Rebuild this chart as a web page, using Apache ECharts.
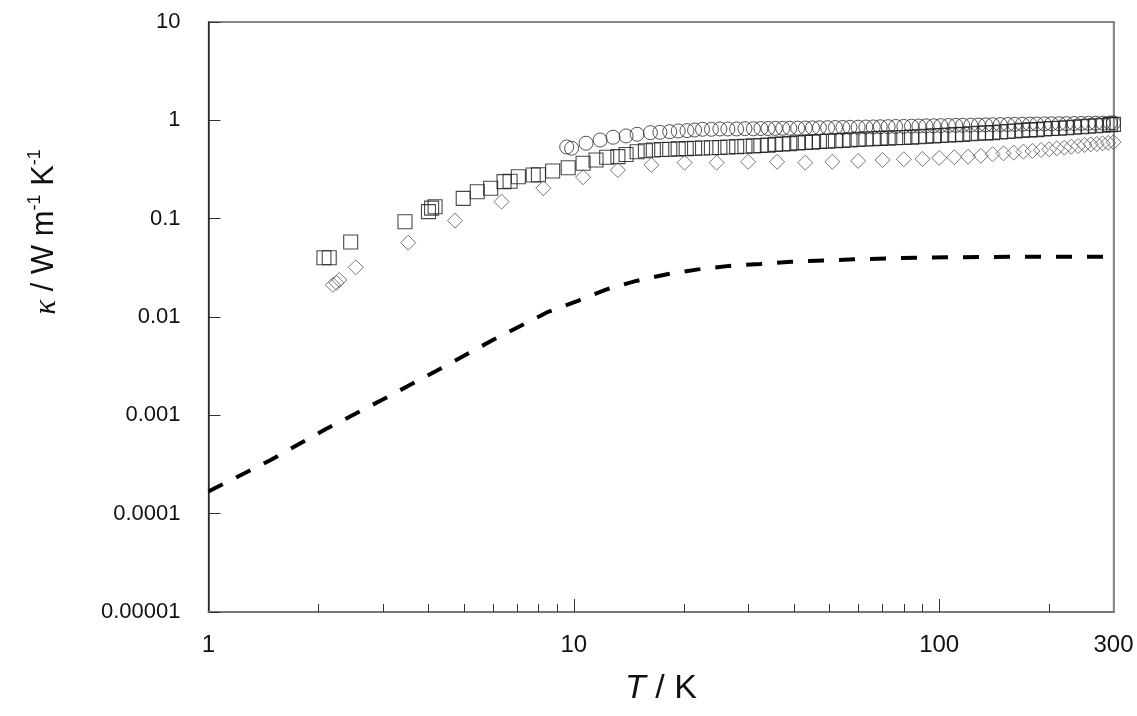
<!DOCTYPE html>
<html>
<head>
<meta charset="utf-8">
<script src="https://cdn.jsdelivr.net/npm/echarts@6/dist/echarts.min.js"></script>
<style>
  html, body { margin: 0; padding: 0; background: #fff; }
  #chart { width: 1137px; height: 716px; }
</style>
</head>
<body>
<div id="chart"></div>
<script>
// model curve (dashed)
const lineT = [1, 1.04, 1.48, 2.09, 2.98, 4.21, 6.0, 8.51, 10.3, 12.3, 14.9, 18.0, 21.9, 26.6, 32.4, 39.4, 58.4, 86.3, 155, 300];
const lineK = [1.68e-4, 1.81e-4, 3.52e-4, 7.21e-4, 1.43e-3, 2.84e-3, 5.83e-3, 0.0113, 0.0147, 0.0191, 0.0234, 0.0272, 0.0305, 0.0331, 0.0346, 0.0365, 0.0386, 0.0401, 0.041, 0.041];

// squares
const squareT = [2.07, 2.14, 2.45, 3.45, 4.0, 4.08, 4.17, 4.98, 5.44, 5.92,
  6.44, 6.69, 7.05, 7.74, 8.0, 8.75, 9.65, 10.6, 11.5, 12.3,
  13.2, 13.9, 14.9, 15.7, 16.5, 17.4, 18.3, 19.3, 20.3, 21.4,
  22.5, 23.8, 25.1, 26.4, 27.9, 29.4, 31, 32.5, 34, 35.6,
  37.3, 39, 41, 43, 45, 47, 49.5, 52, 54.5, 57,
  60, 63, 66, 69, 72.5, 76, 80, 84, 88, 92,
  96.5, 101, 106, 111, 116, 122, 128, 134, 140, 147,
  154, 161, 169, 177, 185, 194, 203, 213, 223, 234,
  245, 256, 268, 281, 294, 300];
const squareK = [0.040, 0.040, 0.058, 0.093, 0.118, 0.128, 0.132, 0.161, 0.188, 0.204,
  0.238, 0.24, 0.267, 0.278, 0.28, 0.305, 0.33, 0.366, 0.395, 0.421,
  0.427, 0.45, 0.48, 0.49, 0.50, 0.505, 0.508, 0.512, 0.515, 0.52,
  0.524, 0.527, 0.53, 0.535, 0.54, 0.545, 0.55, 0.555, 0.56, 0.57,
  0.575, 0.58, 0.59, 0.595, 0.60, 0.61, 0.615, 0.62, 0.625, 0.63,
  0.64, 0.645, 0.65, 0.655, 0.66, 0.665, 0.67, 0.675, 0.68, 0.69,
  0.695, 0.70, 0.71, 0.715, 0.72, 0.73, 0.74, 0.745, 0.75, 0.76,
  0.77, 0.78, 0.79, 0.80, 0.805, 0.815, 0.825, 0.83, 0.84, 0.85,
  0.86, 0.87, 0.88, 0.89, 0.905, 0.91];

// circles
const circleT = [9.56, 9.86, 10.8, 11.8, 12.8, 13.9, 14.9, 16.2, 17.2, 18.3,
  19.3, 20.4, 21.4, 22.5, 23.8, 25.1, 26.4, 27.9, 29.4, 31,
  32.5, 34, 35.6, 37.3, 39, 41, 43, 45, 47, 49.5,
  52, 54.5, 57, 60, 63, 66, 69, 72.5, 76, 80,
  84, 88, 92, 96.5, 101, 106, 111, 116, 122, 128,
  134, 140, 147, 154, 161, 169, 177, 185, 194, 203,
  213, 223, 234, 245, 256, 268, 281, 294, 300];
const circleK = [0.536, 0.52, 0.585, 0.631, 0.673, 0.694, 0.722, 0.749, 0.756, 0.767,
  0.78, 0.786, 0.798, 0.811, 0.811, 0.817, 0.817, 0.817, 0.823, 0.82,
  0.825, 0.826, 0.828, 0.83, 0.83, 0.834, 0.835, 0.838, 0.84, 0.842,
  0.845, 0.846, 0.85, 0.852, 0.855, 0.857, 0.86, 0.862, 0.866, 0.868,
  0.872, 0.875, 0.878, 0.88, 0.884, 0.886, 0.889, 0.89, 0.893, 0.896,
  0.9, 0.902, 0.905, 0.907, 0.91, 0.912, 0.915, 0.917, 0.92, 0.922,
  0.924, 0.926, 0.928, 0.93, 0.932, 0.935, 0.937, 0.94, 0.94];

// diamonds
const diamondT = [2.19, 2.24, 2.28, 2.53, 3.52, 4.73, 6.34, 8.25, 10.6, 13.2,
  16.3, 20.1, 24.6, 30, 36, 43, 51, 60, 70, 80,
  90, 100, 110, 120, 130, 140, 150, 160, 170, 180,
  190, 200, 210, 220, 230, 240, 250, 260, 270, 280,
  290, 300];
const diamondK = [0.0212, 0.0223, 0.0238, 0.032, 0.057, 0.0955, 0.149, 0.204, 0.264, 0.312,
  0.352, 0.371, 0.371, 0.379, 0.379, 0.371, 0.379, 0.386, 0.395, 0.402,
  0.405, 0.415, 0.421, 0.427, 0.436, 0.452, 0.462, 0.469, 0.48, 0.488,
  0.499, 0.508, 0.52, 0.527, 0.54, 0.548, 0.561, 0.57, 0.574, 0.584,
  0.59, 0.60];

// axis ticks
const xMajorTicks = [10, 100];
const xMinorTicks = [2, 3, 4, 5, 6, 7, 8, 9, 20, 30, 40, 50, 60, 70, 80, 90, 200];
const xLabelValues = [1, 10, 100, 300];
const xTickLabels = ['1', '10', '100', '300'];
const yTickLabels = ['0.00001', '0.0001', '0.001', '0.01', '0.1', '1', '10'];

const SANS = 'Liberation Sans';

const pairs = (xs, ys) => xs.map((x, i) => [x, ys[i]]);

let myChart = echarts.init(document.getElementById('chart'));

const scatterBase = {
    type: 'scatter',
    clip: false,
    silent: true,
    symbolSize: 14
};

let option = {
    animation: false,
    backgroundColor: '#fff',
    grid: {
        left: 208.5, right: 23.5, top: 22, bottom: 104,
        show: true, borderColor: '#111', borderWidth: 1.2
    },
    xAxis: [
        {
            type: 'log', logBase: 10, min: 1, max: 300, position: 'bottom',
            axisLine: { lineStyle: { color: '#777', width: 2 } },
            axisTick: { inside: true, length: 13, lineStyle: { color: '#333' }, customValues: xMajorTicks },
            axisLabel: {
                customValues: xLabelValues, margin: 21,
                fontFamily: SANS, fontSize: 24, color: '#111',
                formatter: v => {
                    const i = xLabelValues.findIndex(t => Math.abs(t - v) / t < 0.01);
                    return i >= 0 ? xTickLabels[i] : '';
                }
            },
            splitLine: { show: false },
            name: '{i|T} / K', nameLocation: 'middle', nameGap: 60,
            nameTextStyle: {
                fontFamily: SANS, fontSize: 34, color: '#111',
                rich: { i: { fontStyle: 'italic', fontSize: 34, fontFamily: SANS, color: '#111' } }
            }
        },
        {
            type: 'log', logBase: 10, min: 1, max: 300, position: 'bottom', gridIndex: 0,
            axisLine: { show: false },
            axisTick: { inside: true, length: 8, lineStyle: { color: '#333' }, customValues: xMinorTicks },
            axisLabel: { show: false },
            splitLine: { show: false }
        }
    ],
    yAxis: [
        {
            type: 'log', logBase: 10, min: 0.00001, max: 10, position: 'left',
            axisLine: { show: true, lineStyle: { color: '#333', width: 1.5 } },
            axisTick: { show: true, inside: true, length: 12, lineStyle: { color: '#333' } },
            axisLabel: {
                margin: 28, fontSize: 22, color: '#111', fontFamily: SANS,
                formatter: v => yTickLabels[Math.round(Math.log10(v)) + 5] || ''
            },
            splitLine: { show: false }
        },
        {
            type: 'log', logBase: 10, min: 0.00001, max: 10, position: 'right',
            axisLine: { show: true, lineStyle: { color: '#888', width: 2 } },
            axisTick: { show: false },
            axisLabel: { show: false },
            splitLine: { show: false }
        }
    ],
    graphic: [
        {
            type: 'text', x: 44, y: 232, rotation: Math.PI / 2,
            style: {
                text: '{i|κ} / W m{s|-1} K{s|-1}',
                align: 'center', verticalAlign: 'middle',
                fill: '#111', fontSize: 31, fontFamily: SANS,
                rich: {
                    i: { fontStyle: 'italic', fontSize: 31, lineHeight: 36, verticalAlign: 'bottom', fontFamily: 'Liberation Serif', fill: '#111' },
                    s: { fontSize: 18, lineHeight: 20, verticalAlign: 'top', fill: '#111', fontFamily: SANS }
                }
            }
        }
    ],
    series: [
        {
            name: 'model', type: 'line', xAxisIndex: 0, yAxisIndex: 0,
            data: pairs(lineT, lineK),
            showSymbol: false, smooth: false, silent: true,
            lineStyle: { color: '#000', width: 4, type: [16, 15], cap: 'butt' }
        },
        Object.assign({}, scatterBase, {
            name: 'squares', symbol: 'rect',
            data: pairs(squareT, squareK),
            itemStyle: { color: 'rgba(0,0,0,0)', borderColor: '#1a1a1a', borderWidth: 1.1 }
        }),
        Object.assign({}, scatterBase, {
            name: 'circles', symbol: 'circle',
            data: pairs(circleT, circleK),
            itemStyle: { color: 'rgba(0,0,0,0)', borderColor: '#2a2a2a', borderWidth: 1 }
        }),
        Object.assign({}, scatterBase, {
            name: 'diamonds', symbol: 'diamond', symbolSize: 15,
            data: pairs(diamondT, diamondK),
            itemStyle: { color: 'rgba(0,0,0,0)', borderColor: '#555', borderWidth: 1 }
        })
    ]
};

option && myChart.setOption(option);
</script>
</body>
</html>
